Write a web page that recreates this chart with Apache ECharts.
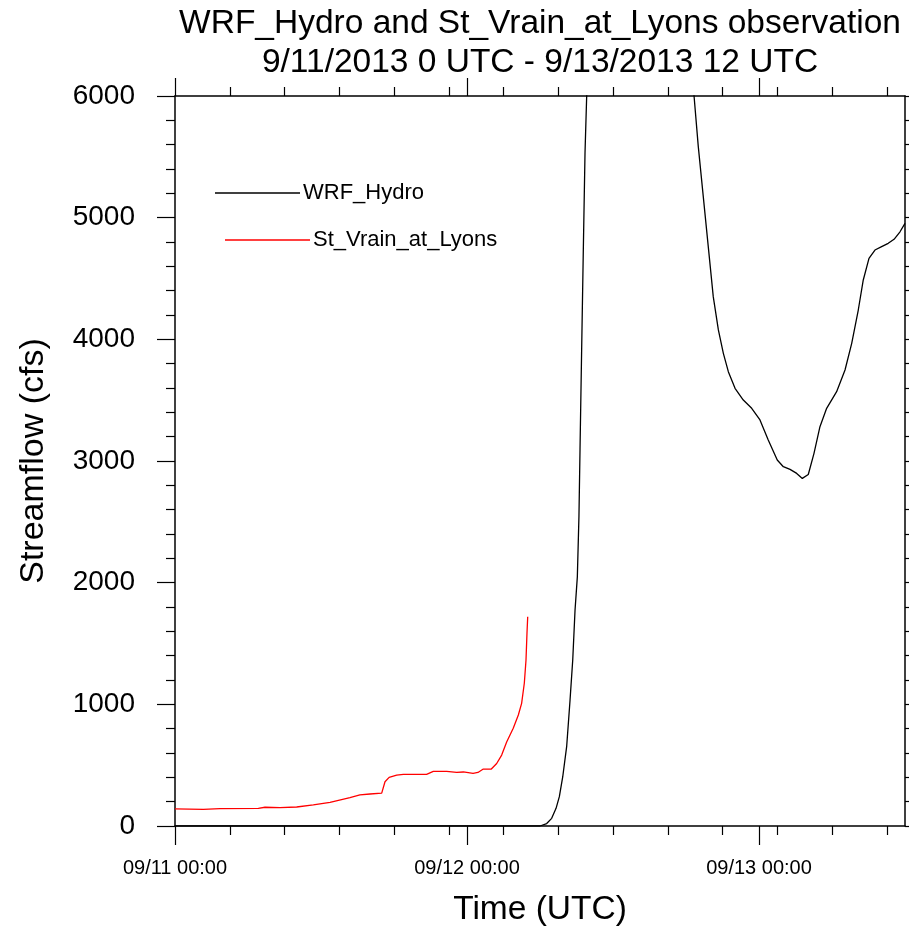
<!DOCTYPE html>
<html>
<head>
<meta charset="utf-8">
<script src="https://cdn.jsdelivr.net/npm/echarts@6/dist/echarts.min.js"></script>
<style>
  html, body { margin: 0; padding: 0; background: #fff; }
  #chart { width: 909px; height: 928px; }
</style>
</head>
<body>
<div id="chart"></div>
<script>
// Hours since 9/11/2013 00 UTC and simulated streamflow (cfs)
const wrfHours = [0, 30.0, 30.55, 30.96, 31.32, 31.59, 31.87, 32.19, 32.47, 32.69, 32.88, 33.07, 33.2, 33.29, 33.42, 33.56, 33.7, 33.84,
  34.5, 35.5, 37, 39, 41, 42, 42.66, 43.01, 43.42, 43.83, 44.24, 44.66, 45.07, 45.48, 46.03, 46.71, 47.4, 48.08, 48.76, 49.5,
  50.0, 50.55, 51.1, 51.56, 52.05, 52.52, 53.01, 53.56, 54.38, 55.07, 55.62, 56.16, 56.57, 57.04, 57.53, 58.08, 58.62, 59.1, 59.59, 60.0];
const wrfFlow = [0, 0, 20, 63, 145, 241, 405, 652, 1036, 1364, 1775, 2050, 2540, 3099, 3896, 4734, 5533, 6010,
  9000, 11500, 12000, 10000, 7800, 6700, 6002, 5584, 5173, 4762, 4351, 4077, 3885, 3734, 3597, 3501, 3433, 3337, 3173, 3008,
  2953, 2931, 2898, 2857, 2889, 3063, 3282, 3433, 3570, 3748, 3967, 4241, 4488, 4666, 4734, 4762, 4789, 4822, 4884, 4953];

// Observed streamflow at St. Vrain at Lyons (cfs)
const obsHours = [0, 2.33, 3.7, 6.85, 7.4, 8.63, 10.0, 11.37, 12.74, 14.38, 15.2, 16.03, 16.99, 17.26, 17.6, 18.22, 18.77, 20.68,
  21.23, 22.33, 23.15, 23.7, 24.5, 24.9, 25.34, 26.0, 26.44, 26.85, 27.26, 27.8, 28.22, 28.49, 28.71, 28.85, 28.93, 28.99];
const obsFlow = [140, 137, 142, 145, 154, 151, 156, 173, 195, 233, 255, 263, 270, 364, 400, 419, 425, 425,
  449, 449, 441, 444, 433, 440, 468, 468, 514, 583, 690, 803, 912, 1008, 1173, 1364, 1584, 1720];

// Axis ticks
const xMajorHours = [0, 24, 48];
const xMajorLabels = ['09/11 00:00', '09/12 00:00', '09/13 00:00'];
const xMinorHours = [4.5, 9, 13.5, 18, 22.5, 27, 31.5, 36, 40.5, 45, 49.5, 54, 58.5];
const yMajor = [0, 1000, 2000, 3000, 4000, 5000, 6000];
const yMinor = [200, 400, 600, 800, 1200, 1400, 1600, 1800, 2200, 2400, 2600, 2800, 3200, 3400, 3600, 3800,
  4200, 4400, 4600, 4800, 5200, 5400, 5600, 5800];

const FONT = 'Liberation Sans, Arial, Helvetica, sans-serif';
const chart = echarts.init(document.getElementById('chart'), null, { renderer: 'canvas' });

const tickStyle = { color: '#000', width: 1.2 };
const hidden = { show: false };

function axisLine(show) {
  return { show: show, onZero: false, lineStyle: { color: '#000', width: 1.5 } };
}
function xAxisDef(position, values, len, withLine, withLabel) {
  return {
    type: 'value', min: 0, max: 60, position: position,
    axisLine: axisLine(withLine),
    axisTick: { show: true, inside: false, length: len, customValues: values, lineStyle: tickStyle },
    axisLabel: withLabel ? {
      show: true, customValues: values, margin: 32, color: '#000', fontFamily: FONT, fontSize: 20,
      formatter: v => xMajorLabels[xMajorHours.indexOf(v)] || ''
    } : hidden,
    splitLine: hidden
  };
}
function yAxisDef(position, values, len, withLine, withLabel) {
  return {
    type: 'value', min: 0, max: 6000, position: position,
    axisLine: axisLine(withLine),
    axisTick: { show: true, inside: false, length: len, customValues: values, lineStyle: tickStyle },
    axisLabel: withLabel ? {
      show: true, customValues: values, margin: 40, color: '#000', fontFamily: FONT, fontSize: 28,
      formatter: v => String(v)
    } : hidden,
    splitLine: hidden
  };
}

const xAxes = [
  xAxisDef('bottom', xMajorHours, 19, true, true),
  xAxisDef('bottom', xMinorHours, 9, false, false),
  xAxisDef('top', xMajorHours, 18, true, false),
  xAxisDef('top', xMinorHours, 9, false, false)
];
Object.assign(xAxes[0], {
  name: 'Time (UTC)', nameLocation: 'middle', nameGap: 67,
  nameTextStyle: { color: '#000', fontFamily: FONT, fontSize: 33.5 }
});

const yAxes = [
  yAxisDef('left', yMajor, 18, true, true),
  yAxisDef('left', yMinor, 9, false, false),
  yAxisDef('right', yMajor, 18, true, false),
  yAxisDef('right', yMinor, 9, false, false)
];
Object.assign(yAxes[0], {
  name: 'Streamflow (cfs)', nameLocation: 'middle', nameGap: 124, nameRotate: 90,
  nameTextStyle: { color: '#000', fontFamily: FONT, fontSize: 34 }
});

function legendDef(name, left, top) {
  return {
    data: [name], left: left, top: top, orient: 'horizontal', padding: 0,
    icon: 'rect', itemWidth: 85, itemHeight: 1.5, itemGap: 0, selectedMode: false,
    textStyle: { color: '#000', fontFamily: FONT, fontSize: 22, lineHeight: 24, padding: [0, 0, 0, -2] }
  };
}

chart.setOption({
  animation: false,
  backgroundColor: '#fff',
  title: {
    text: 'WRF_Hydro and St_Vrain_at_Lyons observation\n9/11/2013 0 UTC - 9/13/2013 12 UTC',
    left: 540, top: 4, textAlign: 'center', padding: 0,
    textStyle: { color: '#000', fontFamily: FONT, fontSize: 33.5, fontWeight: 'normal', lineHeight: 39 }
  },
  legend: [
    legendDef('WRF_Hydro', 215, 181),
    legendDef('St_Vrain_at_Lyons', 225, 228)
  ],
  grid: { left: 175, right: 4, top: 96, bottom: 102, containLabel: false, outerBoundsMode: 'none' },
  xAxis: xAxes,
  yAxis: yAxes,
  series: [
    {
      name: 'WRF_Hydro', type: 'line', xAxisIndex: 0, yAxisIndex: 0,
      data: wrfHours.map((h, i) => [h, wrfFlow[i]]),
      showSymbol: false, symbol: 'none', clip: true, z: 3,
      itemStyle: { color: '#000' },
      lineStyle: { color: '#000', width: 1.3 }
    },
    {
      name: 'St_Vrain_at_Lyons', type: 'line', xAxisIndex: 0, yAxisIndex: 0,
      data: obsHours.map((h, i) => [h, obsFlow[i]]),
      showSymbol: false, symbol: 'none', clip: true, z: 3,
      itemStyle: { color: '#ff0000' },
      lineStyle: { color: '#ff0000', width: 1.3 }
    }
  ]
});
</script>
</body>
</html>
